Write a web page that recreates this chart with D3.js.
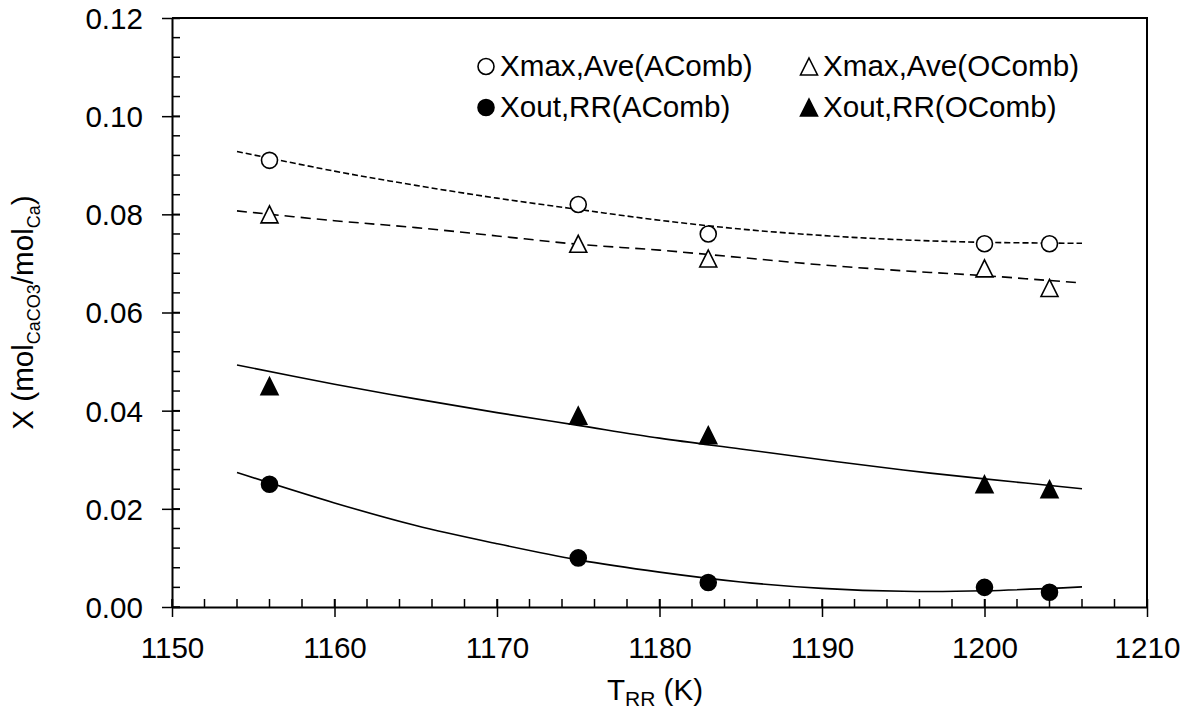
<!DOCTYPE html>
<html>
<head>
<meta charset="utf-8">
<script src="https://cdn.jsdelivr.net/npm/d3@7"></script>
<style>
  html, body { margin: 0; padding: 0; background: #fff; }
  svg { display: block; }
  text { font-family: Arial, "Liberation Sans", sans-serif; fill: #000; }
</style>
</head>
<body>
<svg id="chart" width="1193" height="713"></svg>
<script>
// Measured carbonation levels per riser temperature
const temps = [1156, 1175, 1183, 1200, 1204];
const xmaxAveAComb = [0.091, 0.082, 0.076, 0.074, 0.074];
const xmaxAveOComb = [0.080, 0.074, 0.071, 0.069, 0.065];
const xoutRRAComb  = [0.025, 0.010, 0.005, 0.004, 0.003];
const xoutRROComb  = [0.045, 0.039, 0.035, 0.025, 0.024];

// Trend curves drawn through each series
const curveTemps     = [1154, 1160, 1165, 1170, 1175, 1180, 1185, 1190, 1195, 1200, 1206];
const curveAveAComb  = [0.0928, 0.0888, 0.0859, 0.0833, 0.0810, 0.0788, 0.0770, 0.0757, 0.0748, 0.0743, 0.0741];
const curveAveOComb  = [0.0807, 0.0787, 0.0773, 0.0756, 0.0739, 0.0727, 0.0712, 0.0697, 0.0685, 0.0675, 0.0660];
const curveRRAComb   = [0.0274, 0.0212, 0.0166, 0.0129, 0.0096, 0.0071, 0.0051, 0.0038, 0.0032, 0.0033, 0.0041];
const curveRROComb   = [0.0493, 0.0454, 0.0424, 0.0396, 0.0370, 0.0344, 0.0322, 0.0300, 0.0279, 0.0261, 0.0241];

// Axis ticks
const xMajorTicks = [1150, 1160, 1170, 1180, 1190, 1200, 1210];
const yMajorTicks = [0.00, 0.02, 0.04, 0.06, 0.08, 0.10, 0.12];
const xMinorTicks = d3.range(1150, 1210.001, 2);
const yMinorTicks = d3.range(0, 0.12001, 0.004);

const legendLabels = ["Xmax,Ave(AComb)", "Xmax,Ave(OComb)", "Xout,RR(AComb)", "Xout,RR(OComb)"];

const svg = d3.select("#chart");
const plot = { left: 172, right: 1147, top: 18, bottom: 607 };

const x = d3.scaleLinear().domain([1150, 1210]).range([plot.left, plot.right]);
const y = d3.scaleLinear().domain([0, 0.12]).range([plot.bottom, plot.top]);

const FONT = 29.6;

// Frame (top and right edges)
svg.append("path")
  .attr("d", `M${plot.left},${plot.top}H${plot.right}V${plot.bottom}`)
  .attr("fill", "none").attr("stroke", "#000").attr("stroke-width", 2);

// Minor ticks, pointing into the plot
svg.append("g").selectAll("line").data(xMinorTicks).join("line")
  .attr("x1", d => x(d)).attr("x2", d => x(d))
  .attr("y1", plot.bottom).attr("y2", plot.bottom - 8)
  .attr("stroke", "#000").attr("stroke-width", 1.5);
svg.append("g").selectAll("line").data(yMinorTicks).join("line")
  .attr("x1", plot.left).attr("x2", plot.left + 8)
  .attr("y1", d => y(d)).attr("y2", d => y(d))
  .attr("stroke", "#000").attr("stroke-width", 1.5);

// Bottom axis
const gx = svg.append("g")
  .attr("transform", `translate(0,${plot.bottom})`)
  .call(d3.axisBottom(x).tickValues(xMajorTicks).tickFormat(d3.format("d")).tickSizeOuter(0));
gx.select(".domain").attr("stroke-width", 2);
gx.selectAll(".tick line").attr("y1", -8).attr("y2", 10).attr("stroke-width", 1.5);
gx.selectAll(".tick text")
  .attr("y", 51).attr("dy", null)
  .style("font-size", FONT + "px").style("font-family", "Arial, 'Liberation Sans', sans-serif");

// Left axis
const gy = svg.append("g")
  .attr("transform", `translate(${plot.left},0)`)
  .call(d3.axisLeft(y).tickValues(yMajorTicks).tickFormat(d3.format(".2f")).tickSizeOuter(0));
gy.select(".domain").attr("stroke-width", 2);
gy.selectAll(".tick line").attr("x1", 8).attr("x2", -10).attr("stroke-width", 1.5);
gy.selectAll(".tick text")
  .attr("x", -29).attr("dy", "0.35em")
  .style("font-size", FONT + "px").style("font-family", "Arial, 'Liberation Sans', sans-serif");

// Axis titles
const xt = svg.append("text")
  .attr("x", 655).attr("y", 700)
  .attr("text-anchor", "middle")
  .style("font-size", FONT + "px");
xt.append("tspan").text("T");
xt.append("tspan").attr("dy", 6).style("font-size", "21px").text("RR");
xt.append("tspan").attr("dy", -6).text(" (K)");

const yt = svg.append("text")
  .attr("transform", `translate(33,${(plot.top + plot.bottom) / 2}) rotate(-90)`)
  .attr("text-anchor", "middle")
  .style("font-size", FONT + "px");
yt.append("tspan").text("X (mol");
yt.append("tspan").attr("dy", 7).style("font-size", "18px").text("CaCO3");
yt.append("tspan").attr("dy", -7).text("/mol");
yt.append("tspan").attr("dy", 7).style("font-size", "18px").text("Ca");
yt.append("tspan").attr("dy", -7).text(")");

// Trend curves
const line = d3.line()
  .x((d, i) => x(curveTemps[i]))
  .y(d => y(d))
  .curve(d3.curveCatmullRom);

const curves = [
  { values: curveAveAComb, dash: "6,3" },
  { values: curveAveOComb, dash: "10,6" },
  { values: curveRRAComb, dash: null },
  { values: curveRROComb, dash: null }
];
svg.append("g").selectAll("path").data(curves).join("path")
  .attr("d", d => line(d.values))
  .attr("fill", "none")
  .attr("stroke", "#000")
  .attr("stroke-width", 1.6)
  .attr("stroke-dasharray", d => d.dash);

// Markers
const R = 8;
const triPath = s => `M0,${-s}L${s},${s}L${-s},${s}Z`;

function drawMarker(g, shape, filled) {
  if (shape === "circle") {
    g.append("circle").attr("r", R)
      .attr("fill", filled ? "#000" : "#fff")
      .attr("stroke", "#000").attr("stroke-width", 1.6);
  } else {
    g.append("path").attr("d", triPath(8.5))
      .attr("fill", filled ? "#000" : "#fff")
      .attr("stroke", "#000").attr("stroke-width", 1.6)
      .attr("stroke-linejoin", "miter");
  }
}

const series = [
  { values: xmaxAveAComb, shape: "circle", filled: false },
  { values: xmaxAveOComb, shape: "triangle", filled: false },
  { values: xoutRRAComb, shape: "circle", filled: true },
  { values: xoutRROComb, shape: "triangle", filled: true }
];

series.forEach(s => {
  s.values.forEach((v, i) => {
    const g = svg.append("g").attr("transform", `translate(${x(temps[i])},${y(v)})`);
    drawMarker(g, s.shape, s.filled);
  });
});

// Legend (two columns, two rows)
const legendPos = [
  { mx: 486, tx: 500, row: 0 },
  { mx: 809, tx: 823, row: 0 },
  { mx: 486, tx: 500, row: 1 },
  { mx: 809, tx: 823, row: 1 }
];
const rowBase = [76, 117];
series.forEach((s, i) => {
  const p = legendPos[i];
  const g = svg.append("g").attr("transform", `translate(${p.mx},${rowBase[p.row] - 9.5})`);
  drawMarker(g, s.shape, s.filled);
  svg.append("text")
    .attr("x", p.tx).attr("y", rowBase[p.row])
    .style("font-size", FONT + "px")
    .text(legendLabels[i]);
});
</script>
</body>
</html>
